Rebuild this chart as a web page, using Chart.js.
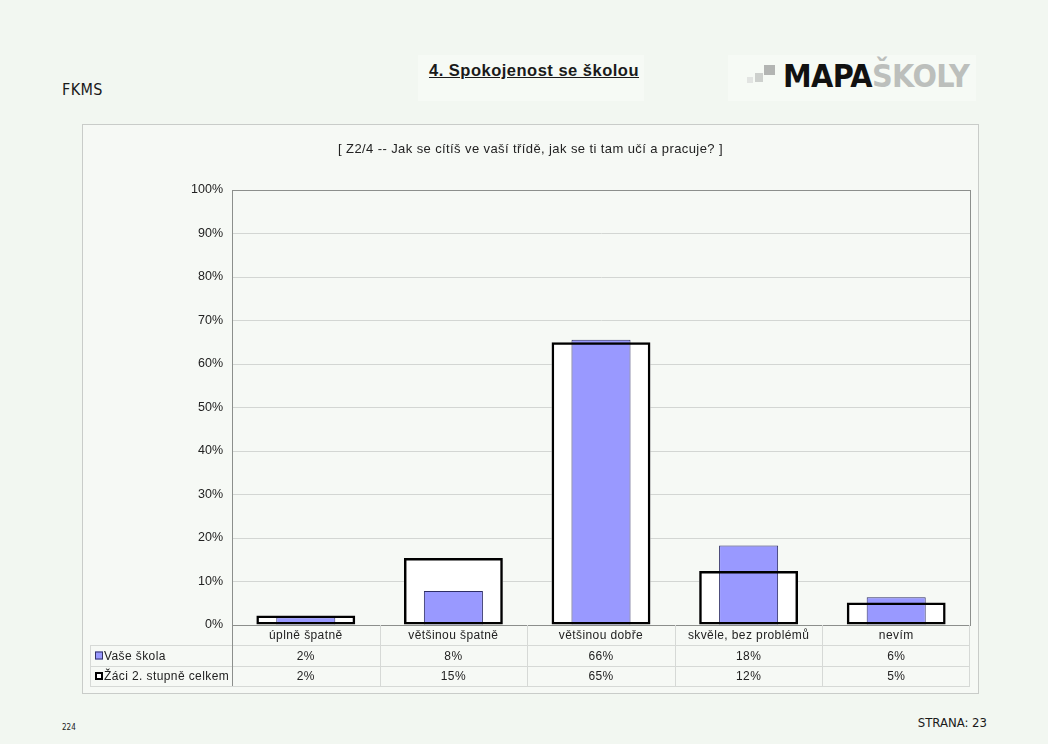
<!DOCTYPE html>
<html>
<head>
<meta charset="utf-8">
<script src="https://cdn.jsdelivr.net/npm/chart.js@4"></script>
<style>
  html, body { margin: 0; padding: 0; }
  body { width: 1048px; height: 744px; background: #f2f7f1; position: relative; overflow: hidden;
         font-family: "Liberation Sans", Arial, sans-serif; color: #1a1a1a; }
  .abs { position: absolute; }
  #fkms { left: 62px; top: 80px; font-family: "Liberation Sans Narrow", "DejaVu Sans Condensed", sans-serif; font-size: 16px; letter-spacing: 0.4px; }
  #titleBox { left: 418px; top: 55px; width: 226px; height: 46px; background: #f6faf5; }
  #title { left: 416px; top: 61px; width: 236px; text-align: center; font-weight: bold; font-size: 16.5px; letter-spacing: 0.5px; text-decoration: underline; }
  #logoBox { left: 728px; top: 55px; width: 248px; height: 46px; background: #f6faf5; }
  #logo { left: 783px; top: 57px; font-family: "DejaVu Sans Condensed", sans-serif; font-weight: bold; font-size: 32px;
          white-space: nowrap; letter-spacing: -0.6px; }
  #logo .b { color: #111; }
  #logo .g { color: #bcbfbc; }
  .sq { position: absolute; }
  #box { left: 82px; top: 124px; width: 895px; height: 568px; border: 1px solid #c9ccc9; background: #f6f9f5; }
  #foot1 { left: 62px; top: 723px; font-size: 8px; font-family: "Liberation Sans Narrow", "DejaVu Sans Condensed", sans-serif; }
  #foot2 { right: 61px; top: 715px; font-size: 13px; font-family: "Liberation Sans Narrow", "DejaVu Sans Condensed", sans-serif; }
</style>
</head>
<body>
<div id="fkms" class="abs">FKMS</div>
<div id="titleBox" class="abs"></div>
<div id="title" class="abs">4. Spokojenost se školou</div>
<div id="logoBox" class="abs"></div>
<div class="sq" style="left:747px;top:77px;width:6px;height:6px;background:#e2e4e2"></div>
<div class="sq" style="left:755px;top:73px;width:8px;height:9px;background:#cdd0cd"></div>
<div class="sq" style="left:764px;top:65px;width:11px;height:10px;background:#b3b5b3"></div>
<div id="logo" class="abs"><span class="b">MAPA</span><span class="g">ŠKOLY</span></div>
<div id="box" class="abs"><canvas id="chart" width="895" height="568"></canvas></div>
<div id="foot1" class="abs">224</div>
<div id="foot2" class="abs">STRANA: 23</div>

<script>
const subtitle = '[ Z2/4 -- Jak se cítíš ve vaší třídě, jak se ti tam učí a pracuje? ]';
const categories = ['úplně špatně', 'většinou špatně', 'většinou dobře', 'skvěle, bez problémů', 'nevím'];
const seriesNames = ['Vaše škola', 'Žáci 2. stupně celkem'];
const vaseSkola = [1.8, 7.8, 65.6, 18.3, 6.4];
const zaciCelkem = [2.2, 15.4, 65.0, 12.4, 5.2];
const yTicks = [0, 10, 20, 30, 40, 50, 60, 70, 80, 90, 100];

const FONT = '"Liberation Sans", Arial, sans-serif';
const BLUE = '#9999ff';

// draws subtitle, plot frame and the data table under the axis
const tablePlugin = {
    id: 'dataTable',
    afterDraw(chart) {
        const ctx = chart.ctx;
        const area = chart.chartArea;
        const x = chart.scales.x;
        const left = 7;
        const rows = [area.bottom, area.bottom + 20, area.bottom + 41, area.bottom + 61];
        const step = (area.right - area.left) / categories.length;

        ctx.save();
        // subtitle
        ctx.fillStyle = '#222';
        ctx.font = '13px ' + FONT;
        ctx.letterSpacing = '0.4px';
        ctx.textAlign = 'center';
        ctx.textBaseline = 'middle';
        ctx.fillText(subtitle, chart.width / 2, 24);

        // plot frame
        ctx.strokeStyle = '#8c8f8c';
        ctx.lineWidth = 1;
        ctx.strokeRect(area.left + 0.5, area.top + 0.5, area.right - area.left, area.bottom - area.top);

        // table grid
        ctx.strokeStyle = '#d6d9d6';
        ctx.beginPath();
        rows.slice(1).forEach(r => { ctx.moveTo(left, r + 0.5); ctx.lineTo(area.right, r + 0.5); });
        ctx.moveTo(left + 0.5, rows[1]); ctx.lineTo(left + 0.5, rows[3]);
        for (let i = 1; i < categories.length; i++) {
            const bx = Math.round(area.left + step * i) + 0.5;
            ctx.moveTo(bx, rows[0]); ctx.lineTo(bx, rows[3]);
        }
        ctx.moveTo(area.right - 0.5, rows[0]); ctx.lineTo(area.right - 0.5, rows[3]);
        ctx.stroke();
        ctx.strokeStyle = '#8c8f8c';
        ctx.beginPath();
        ctx.moveTo(area.left + 0.5, rows[0]); ctx.lineTo(area.left + 0.5, rows[3]);
        ctx.stroke();

        // texts
        ctx.fillStyle = '#222';
        ctx.font = '12px ' + FONT;
        ctx.letterSpacing = '0.4px';
        ctx.textAlign = 'center';
        categories.forEach((c, i) => {
            const cx = x.getPixelForValue(i);
            ctx.fillText(c, cx, (rows[0] + rows[1]) / 2 + 1);
            ctx.fillText(Math.round(vaseSkola[i]) + '%', cx, (rows[1] + rows[2]) / 2 + 1);
            ctx.fillText(Math.round(zaciCelkem[i]) + '%', cx, (rows[2] + rows[3]) / 2 + 1);
        });

        // legend keys
        ctx.textAlign = 'left';
        let ky = (rows[1] + rows[2]) / 2;
        ctx.fillStyle = BLUE;
        ctx.fillRect(12, ky - 4, 8, 8);
        ctx.strokeStyle = '#333366';
        ctx.strokeRect(12.5, ky - 3.5, 7, 7);
        ctx.fillStyle = '#222';
        ctx.fillText(seriesNames[0], 21, ky + 1);
        ky = (rows[2] + rows[3]) / 2;
        ctx.fillStyle = '#fff';
        ctx.fillRect(12, ky - 4, 8, 8);
        ctx.strokeStyle = '#000';
        ctx.lineWidth = 2;
        ctx.strokeRect(13, ky - 3, 6, 6);
        ctx.fillStyle = '#222';
        ctx.fillText(seriesNames[1], 21, ky + 1);
        ctx.restore();
    }
};

new Chart(document.getElementById('chart'), {
    type: 'bar',
    data: {
        labels: categories,
        datasets: [
            {
                label: seriesNames[1],
                data: zaciCelkem,
                backgroundColor: '#ffffff',
                borderWidth: 0,
                grouped: false,
                categoryPercentage: 1,
                barPercentage: 0.67,
                order: 3
            },
            {
                label: seriesNames[0],
                data: vaseSkola,
                backgroundColor: BLUE,
                borderColor: '#2e2e66',
                borderWidth: 1,
                borderSkipped: 'start',
                grouped: false,
                categoryPercentage: 1,
                barPercentage: 0.40,
                order: 2
            },
            {
                label: seriesNames[1] + ' ',
                data: zaciCelkem,
                backgroundColor: 'rgba(0,0,0,0)',
                borderColor: '#000',
                borderWidth: 2.5,
                borderSkipped: false,
                grouped: false,
                categoryPercentage: 1,
                barPercentage: 0.67,
                order: 1
            }
        ]
    },
    options: {
        responsive: false,
        animation: false,
        layout: { padding: { left: 0, right: 8, top: 65, bottom: 68 } },
        plugins: {
            legend: { display: false },
            tooltip: { enabled: false },
            title: { display: false }
        },
        scales: {
            x: {
                ticks: { display: false },
                grid: { display: false, drawTicks: false },
                border: { display: false },
                afterFit: s => { s.height = 0; }
            },
            y: {
                min: 0,
                max: 100,
                afterBuildTicks: s => { s.ticks = yTicks.map(v => ({ value: v })); },
                ticks: {
                    padding: 9,
                    color: '#222',
                    font: { family: FONT, size: 12.5 },
                    callback: v => v + '%'
                },
                grid: { color: '#d3d6d3', drawTicks: false },
                border: { color: '#8c8f8c' },
                afterFit: s => { s.width = 149; }
            }
        }
    },
    plugins: [tablePlugin]
});
</script>
</body>
</html>
